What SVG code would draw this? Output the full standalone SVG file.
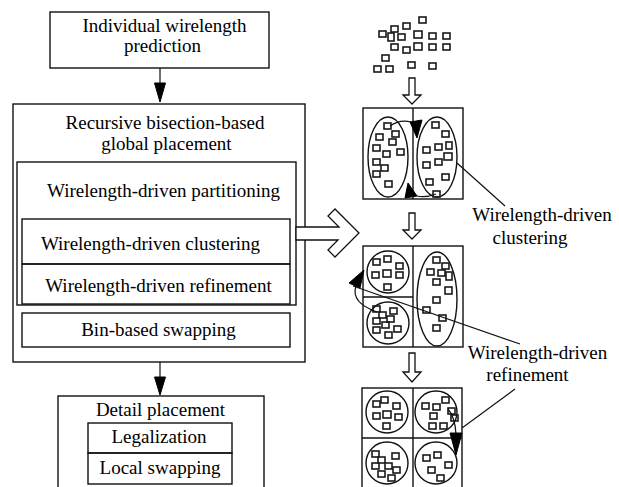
<svg xmlns="http://www.w3.org/2000/svg" xmlns:xlink="http://www.w3.org/1999/xlink" width="619" height="487" viewBox="0 0 619 487">
<style>
.b{fill:none;stroke:#111;stroke-width:1.4}
.t{font-family:"Liberation Serif","DejaVu Serif",serif;font-size:19px;fill:#000;text-anchor:middle}
.ln{fill:none;stroke:#111;stroke-width:1.2}
.hd{fill:#000;stroke:#000;stroke-width:1}
.ha{fill:#fff;stroke:#111;stroke-width:1.3;stroke-linejoin:miter}
.sq{fill:none;stroke:#1a1a1a;stroke-width:1.6}
</style>
<defs>
<rect id="s" class="sq" width="7" height="6"/>
</defs>
<rect width="619" height="487" fill="#fff"/>

<g id="n-prediction">
<rect class="b" x="50" y="12" width="219" height="56"/>
<text class="t" x="164.5" y="32">Individual wirelength</text>
<text class="t" x="162.5" y="52">prediction</text>
</g>

<g id="n-global">
<rect class="b" x="13" y="104" width="292" height="258"/>
<text class="t" x="165" y="129">Recursive bisection-based</text>
<text class="t" x="166.5" y="150">global placement</text>
</g>
<g id="n-partitioning">
<rect class="b" x="17" y="162" width="279" height="143"/>
<text class="t" x="163.5" y="197">Wirelength-driven partitioning</text>
</g>
<g id="n-clustering">
<rect class="b" x="22" y="219" width="268" height="45"/>
<text class="t" x="150.5" y="250">Wirelength-driven clustering</text>
</g>
<g id="n-refinement">
<rect class="b" x="22" y="264" width="268" height="40"/>
<text class="t" x="158.5" y="292">Wirelength-driven refinement</text>
</g>
<g id="n-binswap">
<rect class="b" x="22" y="313" width="268" height="34"/>
<text class="t" x="158.5" y="336">Bin-based swapping</text>
</g>
<g id="n-detail">
<rect class="b" x="58" y="396" width="206" height="100"/>
<text class="t" x="160.5" y="416">Detail placement</text>
</g>
<g id="n-legal">
<rect class="b" x="88" y="423" width="144" height="30"/>
<text class="t" x="159" y="443">Legalization</text>
</g>
<g id="n-local">
<rect class="b" x="88" y="453" width="144" height="31"/>
<text class="t" x="160" y="474">Local swapping</text>
</g>

<g id="n-scatter">
<use xlink:href="#s" x="419" y="17"/><use xlink:href="#s" x="403" y="23"/><use xlink:href="#s" x="391" y="26"/>
<use xlink:href="#s" x="379" y="31"/><rect class="sq" x="388" y="33" width="6" height="8"/><use xlink:href="#s" x="398" y="34"/>
<rect class="sq" x="414" y="31" width="8" height="7"/><use xlink:href="#s" x="429" y="33"/><use xlink:href="#s" x="443" y="33"/>
<use xlink:href="#s" x="391" y="44"/><use xlink:href="#s" x="403" y="47"/><rect class="sq" x="414" y="43" width="8" height="7"/>
<use xlink:href="#s" x="429" y="44"/><use xlink:href="#s" x="443" y="44"/><use xlink:href="#s" x="382" y="55"/>
<use xlink:href="#s" x="374" y="66"/><use xlink:href="#s" x="386" y="66"/><use xlink:href="#s" x="408" y="62"/><use xlink:href="#s" x="429" y="63"/>
</g>

<g id="n-bisect1">
<rect class="b" x="363" y="108" width="100" height="91"/>
<line class="b" x1="413" y1="108" x2="413" y2="199"/>
<ellipse class="b" cx="388" cy="157" rx="20" ry="40"/>
<ellipse class="b" cx="437" cy="157" rx="20" ry="40"/>
<use xlink:href="#s" x="384" y="123"/><use xlink:href="#s" x="392" y="131"/><use xlink:href="#s" x="376" y="134"/>
<use xlink:href="#s" x="389" y="139"/><use xlink:href="#s" x="373" y="145"/><use xlink:href="#s" x="383" y="151"/>
<use xlink:href="#s" x="397" y="149"/><use xlink:href="#s" x="373" y="159"/><use xlink:href="#s" x="381" y="165"/>
<use xlink:href="#s" x="373" y="171"/><use xlink:href="#s" x="385" y="181"/>
<use xlink:href="#s" x="432" y="122"/><use xlink:href="#s" x="442" y="131"/><rect class="sq" x="446" y="142" width="6" height="7"/>
<use xlink:href="#s" x="435" y="144"/><use xlink:href="#s" x="423" y="147"/><rect class="sq" x="444" y="153" width="8" height="7"/>
<use xlink:href="#s" x="435" y="159"/><use xlink:href="#s" x="423" y="162"/><use xlink:href="#s" x="442" y="174"/>
<use xlink:href="#s" x="426" y="179"/><use xlink:href="#s" x="433" y="191"/>
</g>

<g id="n-bisect2">
<rect class="b" x="363" y="246" width="100" height="101"/>
<line class="b" x1="413" y1="246" x2="413" y2="347"/>
<line class="b" x1="363" y1="297" x2="413" y2="297"/>
<circle class="b" cx="388" cy="272" r="21"/>
<circle class="b" cx="388" cy="323" r="21"/>
<ellipse class="b" cx="437" cy="299" rx="20" ry="47"/>
<use xlink:href="#s" x="373" y="259"/><use xlink:href="#s" x="384" y="256"/><use xlink:href="#s" x="396" y="263"/>
<use xlink:href="#s" x="372" y="272"/><rect class="sq" x="383" y="270" width="8" height="7"/><use xlink:href="#s" x="396" y="272"/>
<use xlink:href="#s" x="384" y="284"/>
<use xlink:href="#s" x="373" y="306"/><use xlink:href="#s" x="379" y="312"/><use xlink:href="#s" x="390" y="308"/>
<use xlink:href="#s" x="373" y="318"/><use xlink:href="#s" x="387" y="316"/><use xlink:href="#s" x="382" y="322"/>
<use xlink:href="#s" x="394" y="326"/><use xlink:href="#s" x="373" y="327"/><use xlink:href="#s" x="385" y="332"/>
<use xlink:href="#s" x="433" y="257"/><use xlink:href="#s" x="442" y="263"/><use xlink:href="#s" x="427" y="269"/>
<use xlink:href="#s" x="438" y="270"/><rect class="sq" x="446" y="272" width="6" height="8"/><use xlink:href="#s" x="433" y="279"/>
<rect class="sq" x="445" y="287" width="7" height="7"/><use xlink:href="#s" x="433" y="297"/><use xlink:href="#s" x="423" y="307"/>
<use xlink:href="#s" x="439" y="315"/><use xlink:href="#s" x="433" y="325"/>
</g>

<g id="n-bisect3">
<rect class="b" x="362" y="388" width="100" height="101"/>
<line class="b" x1="413" y1="388" x2="413" y2="489"/>
<line class="b" x1="362" y1="438" x2="462" y2="438"/>
<circle class="b" cx="387" cy="412" r="21"/>
<circle class="b" cx="436" cy="412" r="21"/>
<circle class="b" cx="387" cy="463" r="21"/>
<circle class="b" cx="436" cy="463" r="21"/>
<use xlink:href="#s" x="373" y="401"/><use xlink:href="#s" x="381" y="397"/><use xlink:href="#s" x="393" y="403"/>
<use xlink:href="#s" x="373" y="413"/><rect class="sq" x="383" y="411" width="8" height="7"/><use xlink:href="#s" x="395" y="414"/>
<use xlink:href="#s" x="383" y="423"/>
<use xlink:href="#s" x="422" y="403"/><use xlink:href="#s" x="433" y="404"/><use xlink:href="#s" x="442" y="397"/>
<use xlink:href="#s" x="448" y="408"/><use xlink:href="#s" x="430" y="413"/><use xlink:href="#s" x="451" y="415"/>
<use xlink:href="#s" x="429" y="423"/><use xlink:href="#s" x="440" y="423"/>
<use xlink:href="#s" x="372" y="451"/><use xlink:href="#s" x="378" y="457"/><use xlink:href="#s" x="392" y="453"/>
<use xlink:href="#s" x="372" y="463"/><use xlink:href="#s" x="385" y="463"/><use xlink:href="#s" x="393" y="467"/>
<use xlink:href="#s" x="378" y="471"/><use xlink:href="#s" x="388" y="475"/>
<use xlink:href="#s" x="423" y="455"/><use xlink:href="#s" x="434" y="452"/><use xlink:href="#s" x="445" y="462"/>
<use xlink:href="#s" x="428" y="467"/><use xlink:href="#s" x="437" y="475"/>
</g>

<g id="n-label-clustering">
<text class="t" x="542" y="221">Wirelength-driven</text>
<text class="t" x="530" y="244">clustering</text>
</g>
<g id="n-label-refinement">
<text class="t" x="537.5" y="359">Wirelength-driven</text>
<text class="t" x="527.5" y="381">refinement</text>
</g>

<g id="connectors">
<line class="ln" x1="160" y1="68" x2="160" y2="85"/>
<polygon class="hd" points="154.5,83 165.5,83 160,102"/>
<line class="ln" x1="160" y1="362" x2="160" y2="379"/>
<polygon class="hd" points="154.5,377 165.5,377 160,395"/>
<polygon class="ha" points="296,227 339,227 328,216 335,209 359,233 335,257 328,250 338,240 296,240"/>
<path class="ha" d="M409,78 H415 V95 H421 L412,104 L403,95 H409 Z"/>
<path class="ha" d="M409,213 H415 V230 H421 L412,239 L403,230 H409 Z"/>
<path class="ha" d="M409,353 H415 V372 H421 L412,382 L403,372 H409 Z"/>
<path class="ln" d="M390,126 Q400,119 411,122"/>
<polygon class="hd" points="410,122 422,120 417,138"/>
<path class="ln" d="M417,196 Q426,198 436,194"/>
<polygon class="hd" points="408,183 405,198 417,196"/>
<line class="ln" x1="457" y1="163" x2="505" y2="206"/>
<path class="ln" d="M377,312 C360,306 352,298 356,286"/>
<polygon class="hd" points="349,283 364,270 360,288"/>
<line class="ln" x1="353" y1="286" x2="520" y2="344"/>
<line class="ln" x1="515" y1="389" x2="462" y2="428"/>
<path class="ln" d="M448,409 Q455,417 456,434"/>
<polygon class="hd" points="450,433 462,433 456,455"/>
</g>
</svg>
